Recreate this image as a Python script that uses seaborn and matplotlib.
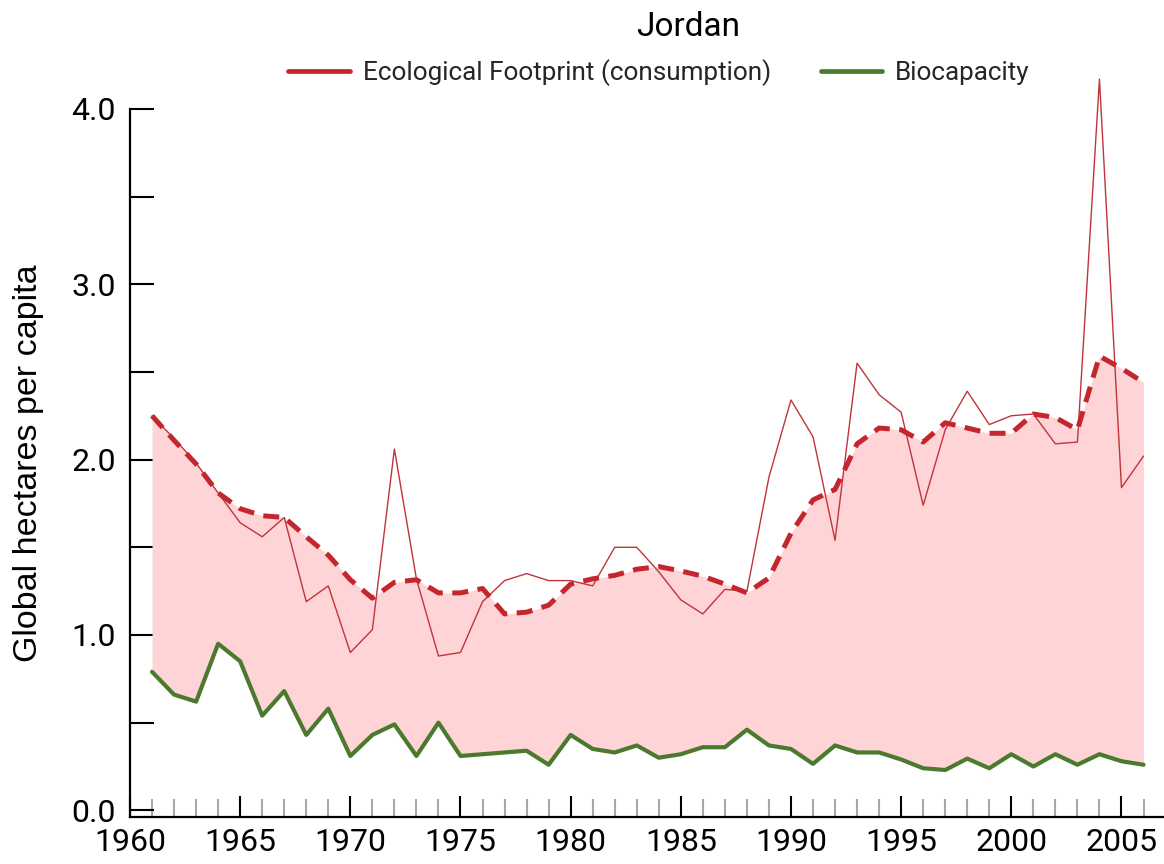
import numpy as np
import pandas as pd
import matplotlib
matplotlib.use("Agg")
import matplotlib.pyplot as plt
from matplotlib.lines import Line2D
from matplotlib.ticker import MultipleLocator
import seaborn as sns

# ---------------- data ----------------
years = list(range(1961, 2007))
footprint = [2.25, 2.12, 1.98, 1.81, 1.64, 1.56, 1.67, 1.19, 1.28, 0.90,
             1.03, 2.06, 1.32, 0.88, 0.90, 1.19, 1.31, 1.35, 1.31, 1.31,
             1.28, 1.50, 1.50, 1.36, 1.20, 1.12, 1.26, 1.25, 1.90, 2.34,
             2.13, 1.54, 2.55, 2.37, 2.27, 1.74, 2.17, 2.39, 2.20, 2.25,
             2.26, 2.09, 2.10, 4.17, 1.84, 2.02]
footprint_trend = [2.25, 2.11, 1.975, 1.81, 1.72, 1.68, 1.67, 1.56, 1.455, 1.315,
                   1.21, 1.30, 1.315, 1.24, 1.24, 1.265, 1.12, 1.13, 1.17, 1.29,
                   1.32, 1.34, 1.375, 1.39, 1.365, 1.335, 1.29, 1.24, 1.325, 1.58,
                   1.77, 1.83, 2.09, 2.18, 2.17, 2.10, 2.21, 2.18, 2.15, 2.15,
                   2.26, 2.24, 2.17, 2.59, 2.52, 2.44]
biocapacity = [0.79, 0.66, 0.62, 0.95, 0.85, 0.54, 0.68, 0.43, 0.58, 0.31,
               0.43, 0.49, 0.31, 0.50, 0.31, 0.32, 0.33, 0.34, 0.26, 0.43,
               0.35, 0.33, 0.37, 0.30, 0.32, 0.36, 0.36, 0.46, 0.37, 0.35,
               0.265, 0.37, 0.33, 0.33, 0.29, 0.24, 0.23, 0.295, 0.24, 0.32,
               0.25, 0.32, 0.26, 0.32, 0.28, 0.26]
y_ticks = [0.0, 1.0, 2.0, 3.0, 4.0]
y_tick_labels = ["0.0", "1.0", "2.0", "3.0", "4.0"]
x_ticks = [1960, 1965, 1970, 1975, 1980, 1985, 1990, 1995, 2000, 2005]
title = "Jordan"
ylabel = "Global hectares per capita"
legend_labels = ["Ecological Footprint (consumption)", "Biocapacity"]

df = pd.DataFrame({"year": years, "ef": footprint, "trend": footprint_trend,
                   "bio": biocapacity})

# ---------------- style ----------------
sns.set_theme(style="white")
plt.rcParams["font.family"] = ["Roboto", "DejaVu Sans"]

RED = "#c4262e"
RED_THIN = "#c0343a"
GREEN = "#4b7a2e"
PINK = "#ffd4d6"

fig = plt.figure(figsize=(11.64, 8.64), dpi=100)
ax = fig.add_axes([130 / 1164, 47 / 864, 1 - 130 / 1164, (817 - 51) / 864])

ax.fill_between(df["year"], df["bio"], df["trend"], color=PINK, lw=0, zorder=1)
sns.lineplot(data=df, x="year", y="ef", ax=ax, color=RED_THIN, lw=1.0, zorder=3)
sns.lineplot(data=df, x="year", y="trend", ax=ax, color=RED, lw=3.6, zorder=4)
ax.lines[-1].set_dashes((3.2, 1.9))
sns.lineplot(data=df, x="year", y="bio", ax=ax, color=GREEN, lw=3.0, zorder=5)
for ln in ax.lines:
    ln.set_clip_on(False)

ax.set_xlim(1960.2, 2006.93)
ax.set_ylim(-0.038, 4.33)

for s in ["top", "right"]:
    ax.spines[s].set_visible(False)
ax.spines["left"].set_bounds(-0.038, 4.0)
for s in ["left", "bottom"]:
    ax.spines[s].set_color("black")
    ax.spines[s].set_linewidth(1.6)

ax.set_yticks(y_ticks)
ax.set_yticklabels(y_tick_labels)
ax.yaxis.set_minor_locator(MultipleLocator(0.5))
ax.set_xticks(x_ticks)
ax.set_xticklabels([str(x) for x in x_ticks])
ax.xaxis.set_minor_locator(MultipleLocator(1))

ax.tick_params(axis="y", which="both", direction="in", length=17, width=1.5,
               color="black", left=True, pad=10, labelsize=23)
ax.tick_params(axis="x", which="major", direction="in", length=15, width=1.5,
               color="black", bottom=True, pad=8, labelsize=23)
ax.tick_params(axis="x", which="minor", direction="in", length=13, width=1.5,
               color="#a8a8a8", bottom=True)
for lab in ax.get_xticklabels() + ax.get_yticklabels():
    lab.set_color("black")

ax.set_xlabel("")
ax.set_ylabel(ylabel, fontsize=24.5, color="black", family=["Liberation Sans", "DejaVu Sans"])
ax.yaxis.set_label_coords(-0.083, (1.98 + 0.038) / 4.368)

fig.text(688 / 1164, 1 - 27 / 864, title, fontsize=24, ha="center", va="center",
         color="black")

handles = [Line2D([0], [0], color=RED, lw=3.4),
           Line2D([0], [0], color=GREEN, lw=3.4)]
fig.legend(handles, legend_labels, loc="center", bbox_to_anchor=(659 / 1164, 1 - 73 / 864),
           ncol=2, frameon=False, fontsize=18.8, handlelength=2.35, handletextpad=0.5,
           columnspacing=1.9)

fig.savefig("out.png", dpi=100)
